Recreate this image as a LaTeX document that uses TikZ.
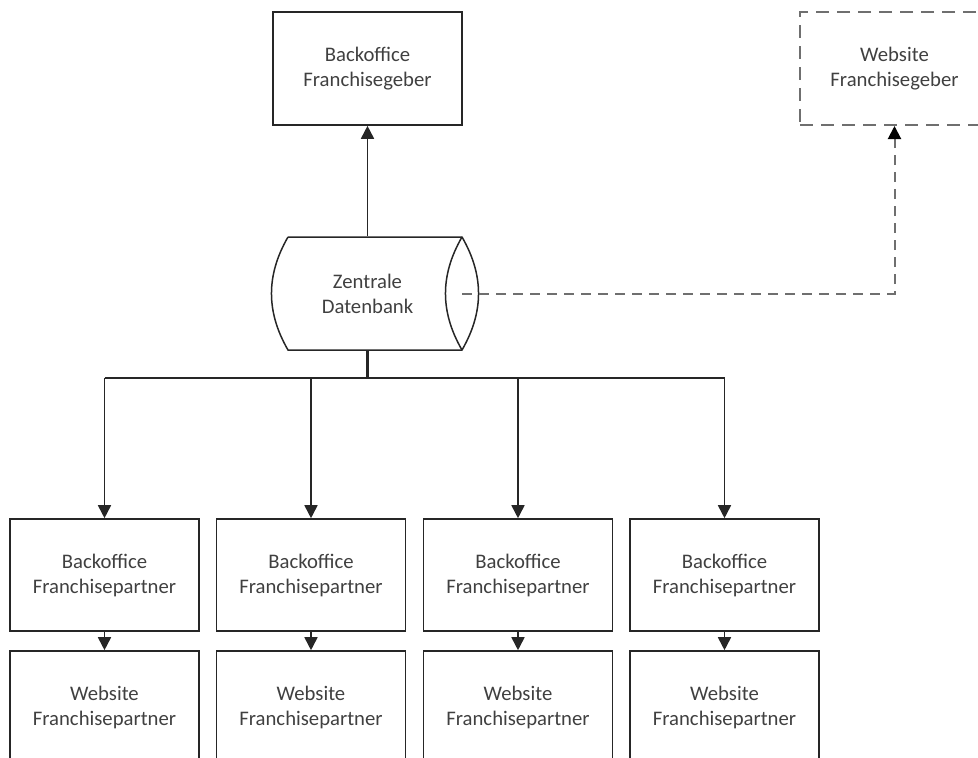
\documentclass[tikz,border=0pt]{standalone}
\usepackage{fontspec}
\setmainfont{Carlito}
\usetikzlibrary{arrows.meta}
\definecolor{linec}{HTML}{262626}
\definecolor{textc}{HTML}{404040}
\definecolor{dashc}{HTML}{6F6F6F}
\begin{document}
\begin{tikzpicture}[x=1pt,y=-1pt,
  box/.style={draw=linec,line width=1.6pt,minimum width=189pt,minimum height=113pt,inner sep=0pt,
    text=textc,align=center,font=\fontsize{20.7}{25}\selectfont},
  dashbox/.style={box,draw=dashc,line width=2pt,dash pattern=on 13pt off 8pt},
  plain/.style={box,draw=none},
  arr/.style={draw=linec,line width=1.7pt,-{Triangle[width=13pt,length=13pt]}},
  darr/.style={draw=dashc,line width=2pt,dash pattern=on 10pt off 7pt,-{Triangle[width=13pt,length=13pt,color=black]}},
  wire/.style={draw=linec,line width=1.7pt}]
\useasboundingbox (0,0) rectangle (978,758);
\clip (0,0) rectangle (978,758);
% top nodes
\node[box] (bog) at (367.5,68.5) {Backoffice\\Franchisegeber};
\node[dashbox] (wg) at (894.5,68.5) {Website\\Franchisegeber};
% database
\node[plain] (db) at (367.5,293.5) {Zentrale\\Datenbank};
\coordinate (dbtl) at (288,237);
\coordinate (dbbl) at (288,350);
\coordinate (dbtr) at (462,237);
\coordinate (dbbr) at (462,350);
\coordinate (dbr) at (462,293.5);
\draw[wire,line width=1.5pt] (dbtl) -- (dbtr) to[bend left=30] (dbbr) -- (dbbl) to[bend left=30] (dbtl);
\draw[wire,line width=1.5pt] (dbtr) to[bend right=30] (dbbr);
% bottom nodes
\foreach \i/\x in {1/104.5,2/311,3/518,4/724.5}{
  \node[box,minimum height=112pt] (bp\i) at (\x,575) {Backoffice\\Franchisepartner};
  \node[box,minimum height=112pt] (wp\i) at (\x,707) {Website\\Franchisepartner};
}
% connectors
\draw[arr] (db.north) -- (bog.south);
\draw[darr] (dbr) -| (wg.south);
\coordinate (bus) at (367.5,378);
\draw[wire,line width=2.2pt] (db.south) -- (bus);
\draw[wire] (bp1.north |- bus) -- (bp4.north |- bus);
\foreach \i in {1,2,3,4}{
  \draw[arr] (bp\i.north |- bus) -- (bp\i.north);
  \draw[arr] (bp\i.south) -- (wp\i.north);
}
\end{tikzpicture}
\end{document}
